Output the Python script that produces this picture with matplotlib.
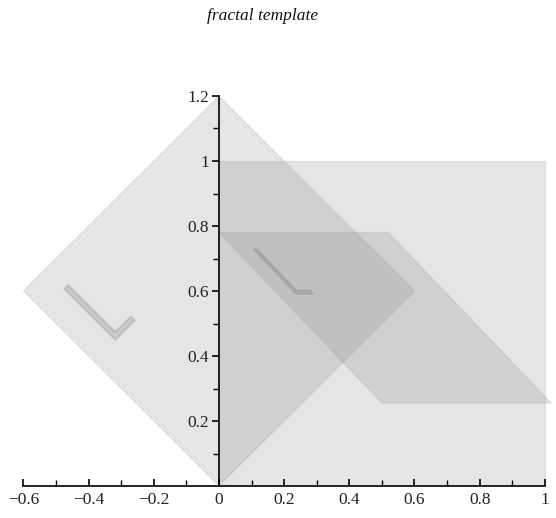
import numpy as np
import matplotlib
matplotlib.use("Agg")
import matplotlib.pyplot as plt
from matplotlib.patches import Polygon
from matplotlib.ticker import MultipleLocator, FixedLocator, FuncFormatter

# unit template: square and the small L inside it
square_x = [0.0, 1.0, 1.0, 0.0]
square_y = [0.0, 0.0, 1.0, 1.0]
ell_x = [0.11, 0.13, 0.13, 0.21, 0.21, 0.11]
ell_y = [0.90, 0.90, 0.66, 0.66, 0.64, 0.64]

# affine maps (a, b, c, d, e, f): x' = a x + b y + e, y' = c x + d y + f
maps = {
    "identity": (1.0, 0.0, 0.0, 1.0, 0.0, 0.0),
    "rotated": (0.6, -0.6, 0.6, 0.6, 0.0, 0.0),
    "sheared": (0.52, -0.5, 0.0, 0.525, 0.5, 0.255),
}
draw_ell = {"identity": False, "rotated": True, "sheared": True}

x_ticks = [-0.6, -0.4, -0.2, 0, 0.2, 0.4, 0.6, 0.8, 1]
y_ticks = [0.2, 0.4, 0.6, 0.8, 1, 1.2]


def apply(m, xs, ys):
    a, b, c, d, e, f = m
    xs = np.asarray(xs)
    ys = np.asarray(ys)
    return np.column_stack([a * xs + b * ys + e, c * xs + d * ys + f])


fig = plt.figure(figsize=(5.56, 5.18), dpi=100)
ax = fig.add_axes([23.4 / 556, 32 / 518, 529.6 / 556, 390 / 518])

for name, m in maps.items():
    ax.add_patch(Polygon(apply(m, square_x, square_y), closed=True,
                         facecolor=(0.5, 0.5, 0.5), alpha=0.2,
                         edgecolor=(0.62, 0.62, 0.62), linewidth=1.0))
    if draw_ell[name]:
        ax.add_patch(Polygon(apply(m, ell_x, ell_y), closed=True,
                             facecolor=(0.45, 0.45, 0.45), alpha=0.22,
                             edgecolor=(0.45, 0.45, 0.45), linewidth=1.5,
                             joinstyle="round"))

ax.set_xlim(-0.6, 1.025)
ax.set_ylim(0, 1.2)

for s in ("top", "right"):
    ax.spines[s].set_visible(False)
ax.spines["left"].set_position(("data", 0))
ax.spines["bottom"].set_position(("data", 0))
ax.spines["left"].set_linewidth(1.2)
ax.spines["bottom"].set_linewidth(1.2)
ax.spines["bottom"].set_bounds(-0.6, 1.0)

fmt = FuncFormatter(lambda v, p: ("%g" % v).replace("-", "\u2212"))
ax.xaxis.set_major_locator(FixedLocator(x_ticks))
ax.xaxis.set_minor_locator(MultipleLocator(0.1))
ax.yaxis.set_major_locator(FixedLocator(y_ticks))
ax.yaxis.set_minor_locator(FixedLocator([0.1, 0.3, 0.5, 0.7, 0.9, 1.1]))
ax.xaxis.set_major_formatter(fmt)
ax.yaxis.set_major_formatter(fmt)

for lab in ax.get_xticklabels() + ax.get_yticklabels():
    lab.set_fontfamily("Liberation Serif")
    lab.set_fontsize(12.5)
    lab.set_color("#222222")
ax.tick_params(axis="x", which="major", direction="in", length=5, width=1.2, pad=4)
ax.tick_params(axis="x", which="minor", direction="in", length=4, width=1.0)
ax.tick_params(axis="y", which="major", direction="out", length=5, width=1.2, pad=2)
ax.tick_params(axis="y", which="minor", direction="out", length=4, width=1.0)
ax.set_facecolor("none")

fig.text(263 / 556, 1 - 16 / 518, "fractal template", ha="center", va="center",
         family="Liberation Serif", style="italic", fontsize=12.5, color="#111111")

fig.savefig("out.png", dpi=100)
